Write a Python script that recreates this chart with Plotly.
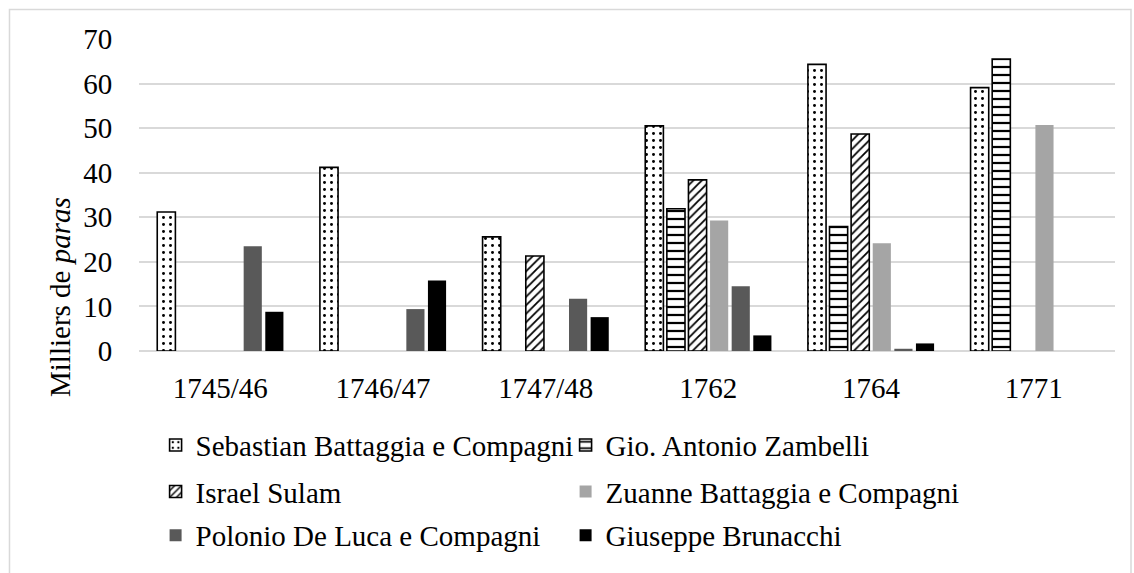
import plotly.graph_objects as go

# Periods on the category axis
periods = ["1745/46", "1746/47", "1747/48", "1762", "1764", "1771"]

# Values in thousands of paras per company (None = no entry)
sebastian_battaggia = [31.2, 41.2, 25.6, 50.5, 64.3, 59.1]
gio_antonio_zambelli = [None, None, None, 31.9, 27.9, 65.5]
israel_sulam = [None, None, 21.3, 38.4, 48.7, None]
zuanne_battaggia = [None, None, None, 29.3, 24.2, 50.7]
polonio_de_luca = [23.5, 9.4, 11.7, 14.5, 0.5, None]
giuseppe_brunacchi = [8.8, 15.8, 7.6, 3.5, 1.7, None]

y_ticks = [0, 10, 20, 30, 40, 50, 60, 70]

FONT = "Liberation Serif"
FS = 29
GRID = "#d9d9d9"

fig = go.Figure()


def patterned(name, values, shape, size, solidity, legend):
    return go.Bar(
        name=name, x=periods, y=values, legend=legend,
        marker=dict(
            color="white",
            line=dict(color="black", width=1.6),
            pattern=dict(shape=shape, fgcolor="black", bgcolor="white",
                         size=size, solidity=solidity, fillmode="replace"),
        ),
    )


def solid(name, values, color, legend):
    return go.Bar(name=name, x=periods, y=values, legend=legend,
                  marker=dict(color=color, line=dict(width=0)))


# Legend laid out in three rows of two entries each
fig.add_trace(patterned("Sebastian Battaggia e Compagni", sebastian_battaggia, ".", 7, 0.14, "legend"))
fig.add_trace(patterned("Gio. Antonio Zambelli", gio_antonio_zambelli, "-", 8, 0.28, "legend"))
fig.add_trace(patterned("Israel Sulam", israel_sulam, "/", 6, 0.3, "legend2"))
fig.add_trace(solid("Zuanne Battaggia e Compagni", zuanne_battaggia, "#a5a5a5", "legend2"))
fig.add_trace(solid("Polonio De Luca e Compagni", polonio_de_luca, "#595959", "legend3"))
fig.add_trace(solid("Giuseppe Brunacchi", giuseppe_brunacchi, "#000000", "legend3"))

# Light grey frame around the whole chart
fig.add_shape(type="rect", xref="paper", yref="paper",
              x0=-0.1327, x1=1.0164, y0=-0.75, y1=1.0945,
              line=dict(color=GRID, width=1.5), fillcolor="rgba(0,0,0,0)",
              layer="below")

# Vertical axis title with italic unit
fig.add_annotation(text="Milliers de <i>paras</i>", textangle=-90,
                   xref="paper", yref="paper", x=-0.081, y=0.173,
                   xanchor="center", yanchor="middle",
                   showarrow=False, font=dict(family=FONT, size=FS, color="black"))

legend_common = dict(orientation="h", xanchor="left", yanchor="top",
                     entrywidth=365, entrywidthmode="pixels",
                     font=dict(family=FONT, size=FS, color="black"),
                     traceorder="normal", bgcolor="rgba(0,0,0,0)")

fig.update_layout(
    width=1134, height=573,
    margin=dict(l=139, r=19, t=39, b=219),
    paper_bgcolor="white", plot_bgcolor="white",
    barmode="group", bargap=0.203, bargroupgap=0.16,
    font=dict(family=FONT, size=FS, color="black"),
    showlegend=True,
    legend=dict(x=0.017, y=-0.22, **legend_common),
    legend2=dict(x=0.017, y=-0.369, **legend_common),
    legend3=dict(x=0.017, y=-0.509, **legend_common),
    xaxis=dict(showgrid=False, showline=False, zeroline=False, ticks="outside",
               ticklen=11, tickcolor="rgba(0,0,0,0)",
               tickfont=dict(family=FONT, size=FS, color="black")),
    yaxis=dict(range=[0, 70], tickvals=y_ticks, showgrid=True, gridcolor=GRID,
               gridwidth=1.5, zeroline=True, zerolinecolor=GRID, zerolinewidth=1.5,
               showline=False, ticks="outside", ticklen=20,
               tickcolor="rgba(0,0,0,0)",
               tickfont=dict(family=FONT, size=FS, color="black")),
)

fig.write_html("out.html")
